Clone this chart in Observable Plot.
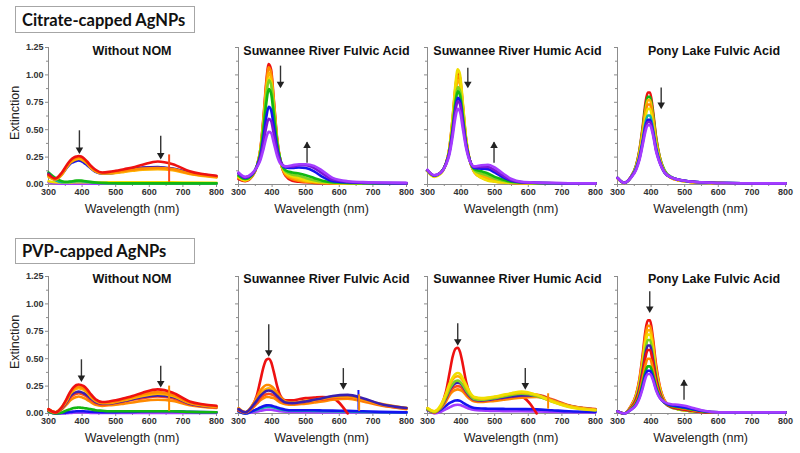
<!DOCTYPE html>
<html><head><meta charset="utf-8">
<script src="https://cdn.jsdelivr.net/npm/d3@7"></script>
<script src="https://cdn.jsdelivr.net/npm/@observablehq/plot@0.6"></script>
<style>
body{margin:0;background:#fff}
#fig{position:relative;width:800px;height:453px;overflow:hidden;background:#fff;font-family:"Liberation Sans",Arial,sans-serif}
.box{position:absolute;border:1px solid #a6a6a6;font-family:Lato,"Open Sans",sans-serif;font-weight:bold;color:#111;box-sizing:border-box;padding-left:6px;display:flex;align-items:center;white-space:nowrap}
.ptitle{position:absolute;font-weight:bold;font-size:12.5px;color:#111;white-space:nowrap;transform:translate(-50%,-50%)}
.xlab{position:absolute;font-size:12.5px;color:#222;white-space:nowrap;transform:translate(-50%,-50%)}
.ylab{position:absolute;font-size:12.5px;color:#222;white-space:nowrap;transform:translate(-50%,-50%) rotate(-90deg)}
.panel{position:absolute;overflow:visible}
</style></head><body><div id="fig"></div>
<script>
// ---------- data ----------
const wavelengths = [300,320,340,355,365,375,383,390,397,405,415,425,440,460,480,500,525,550,580,625,670,720,800];
const groupTitles = ["Citrate-capped AgNPs","PVP-capped AgNPs"];
const panelTitles = ["Without NOM","Suwannee River Fulvic Acid","Suwannee River Humic Acid","Pony Lake Fulvic Acid"];
const xTicks = [300,400,500,600,700,800];
const xMinorTicks = [350,450,550,650,750];
const yTicks = [0,0.25,0.5,0.75,1,1.25];
const yMinorTicks = [0.125,0.375,0.625,0.875,1.125];
const palette = {red:"#ee1111", orangered:"#ff4a1a", orange:"#ff8a00", gold:"#ffb300", yellow:"#f0df00",
  lime:"#7ed321", green:"#12b812", teal:"#10b5a5", blue:"#1414f0", navy:"#3a1fb0", purple:"#7b16d6", violet:"#a43cff"};

const citNone = [
 ["violet",[0.02,0.01,0.008,0.008,0.008,0.008,0.008,0.008,0.008,0.008,0.008,0.008,0.008,0.008,0.008,0.008,0.008,0.008,0.008,0.008,0.008,0.008,0.008]],
 ["yellow",[0.03,0.02,0.018,0.018,0.019,0.02,0.02,0.02,0.02,0.02,0.02,0.02,0.02,0.02,0.02,0.02,0.02,0.02,0.02,0.02,0.02,0.018,0.015]],
 ["teal",[0.08,0.04,0.02,0.02,0.024,0.028,0.03,0.031,0.03,0.028,0.024,0.02,0.016,0.013,0.012,0.011,0.01,0.01,0.01,0.01,0.01,0.01,0.01]],
 ["green",[0.11,0.06,0.03,0.025,0.028,0.032,0.035,0.036,0.035,0.032,0.028,0.024,0.018,0.014,0.012,0.011,0.01,0.01,0.01,0.01,0.01,0.01,0.01]],
 ["blue",[0.09,0.045,0.095,0.155,0.19,0.205,0.215,0.22,0.215,0.20,0.175,0.15,0.115,0.10,0.10,0.11,0.12,0.135,0.15,0.155,0.14,0.105,0.07]],
 ["navy",[0.10,0.05,0.10,0.16,0.195,0.215,0.225,0.23,0.225,0.21,0.185,0.155,0.12,0.10,0.105,0.11,0.125,0.14,0.155,0.16,0.145,0.11,0.075]],
 ["gold",[0.07,0.045,0.09,0.16,0.20,0.22,0.23,0.235,0.23,0.215,0.19,0.155,0.12,0.10,0.10,0.105,0.115,0.125,0.135,0.14,0.13,0.095,0.065]],
 ["orange",[0.08,0.05,0.10,0.17,0.21,0.235,0.245,0.25,0.245,0.23,0.20,0.165,0.125,0.105,0.11,0.115,0.125,0.135,0.145,0.15,0.14,0.10,0.07]],
 ["red",[0.09,0.055,0.11,0.18,0.22,0.245,0.255,0.26,0.255,0.24,0.21,0.175,0.135,0.11,0.115,0.125,0.14,0.155,0.18,0.21,0.185,0.12,0.08]]
];
const citSRFA = [
 ["red",[0.05,0.03,0.07,0.17,0.32,0.64,0.95,1.10,1.05,0.78,0.42,0.21,0.08,0.035,0.025,0.02,0.015,0.012,0.01,0.01,0.01,0.01,0.01]],
 ["orange",[0.06,0.035,0.075,0.17,0.32,0.62,0.92,1.07,1.02,0.76,0.41,0.21,0.09,0.05,0.035,0.025,0.02,0.015,0.012,0.01,0.01,0.01,0.01]],
 ["gold",[0.07,0.04,0.08,0.17,0.31,0.60,0.88,1.02,0.97,0.73,0.40,0.21,0.10,0.065,0.045,0.03,0.022,0.018,0.014,0.012,0.01,0.01,0.01]],
 ["yellow",[0.07,0.04,0.08,0.17,0.30,0.57,0.84,0.97,0.93,0.70,0.39,0.21,0.11,0.075,0.06,0.04,0.028,0.02,0.015,0.012,0.01,0.01,0.01]],
 ["lime",[0.08,0.05,0.085,0.17,0.30,0.56,0.82,0.95,0.91,0.69,0.39,0.22,0.12,0.09,0.08,0.06,0.04,0.025,0.018,0.014,0.012,0.01,0.01]],
 ["green",[0.08,0.05,0.085,0.17,0.28,0.52,0.75,0.87,0.83,0.63,0.37,0.22,0.13,0.11,0.10,0.085,0.06,0.035,0.02,0.015,0.012,0.01,0.01]],
 ["blue",[0.10,0.06,0.09,0.17,0.26,0.44,0.62,0.71,0.68,0.53,0.33,0.21,0.155,0.15,0.155,0.15,0.12,0.07,0.03,0.02,0.015,0.012,0.01]],
 ["purple",[0.10,0.065,0.095,0.16,0.24,0.39,0.53,0.60,0.58,0.46,0.30,0.21,0.165,0.165,0.175,0.175,0.15,0.10,0.045,0.025,0.018,0.015,0.012]],
 ["violet",[0.11,0.07,0.10,0.16,0.22,0.33,0.43,0.48,0.47,0.38,0.26,0.19,0.165,0.175,0.185,0.185,0.17,0.125,0.06,0.03,0.022,0.018,0.015]]
];
const citSRHA = [
 ["red",[0.13,0.08,0.11,0.19,0.33,0.61,0.88,1.02,0.97,0.73,0.41,0.23,0.11,0.065,0.04,0.028,0.02,0.015,0.012,0.01,0.01,0.01,0.01]],
 ["orange",[0.13,0.08,0.11,0.19,0.32,0.59,0.86,0.99,0.94,0.71,0.40,0.23,0.12,0.075,0.05,0.035,0.025,0.018,0.014,0.012,0.01,0.01,0.01]],
 ["gold",[0.13,0.08,0.11,0.19,0.32,0.57,0.82,0.95,0.91,0.69,0.39,0.23,0.12,0.085,0.06,0.04,0.028,0.02,0.015,0.012,0.01,0.01,0.01]],
 ["yellow",[0.12,0.07,0.10,0.19,0.33,0.62,0.91,1.05,1.00,0.75,0.42,0.23,0.11,0.06,0.035,0.025,0.018,0.014,0.012,0.01,0.01,0.01,0.01]],
 ["lime",[0.13,0.08,0.11,0.19,0.31,0.54,0.77,0.89,0.85,0.65,0.38,0.23,0.13,0.10,0.08,0.055,0.035,0.022,0.016,0.012,0.01,0.01,0.01]],
 ["green",[0.13,0.08,0.11,0.19,0.30,0.52,0.74,0.85,0.81,0.62,0.37,0.23,0.14,0.12,0.10,0.07,0.045,0.025,0.018,0.014,0.012,0.01,0.01]],
 ["blue",[0.13,0.08,0.11,0.19,0.29,0.49,0.69,0.79,0.76,0.58,0.36,0.23,0.15,0.145,0.14,0.11,0.065,0.035,0.02,0.015,0.012,0.01,0.01]],
 ["purple",[0.13,0.085,0.11,0.19,0.29,0.48,0.67,0.76,0.73,0.56,0.35,0.23,0.16,0.16,0.16,0.13,0.08,0.04,0.022,0.016,0.013,0.011,0.01]],
 ["violet",[0.135,0.085,0.11,0.18,0.27,0.44,0.61,0.69,0.66,0.51,0.33,0.22,0.165,0.175,0.18,0.155,0.10,0.05,0.025,0.018,0.015,0.012,0.01]]
];
const citPLFA = [
 ["red",[0.06,0.015,0.07,0.17,0.31,0.53,0.74,0.84,0.84,0.69,0.43,0.26,0.12,0.06,0.04,0.03,0.022,0.018,0.015,0.012,0.01,0.01,0.01]],
 ["green",[0.06,0.015,0.07,0.17,0.30,0.51,0.70,0.80,0.80,0.66,0.42,0.26,0.13,0.07,0.045,0.035,0.025,0.02,0.016,0.013,0.011,0.01,0.01]],
 ["gold",[0.06,0.015,0.07,0.16,0.29,0.49,0.67,0.77,0.77,0.63,0.40,0.25,0.12,0.065,0.04,0.03,0.022,0.018,0.015,0.012,0.01,0.01,0.01]],
 ["orange",[0.055,0.012,0.065,0.16,0.28,0.47,0.64,0.73,0.73,0.60,0.38,0.24,0.115,0.06,0.04,0.03,0.022,0.018,0.015,0.012,0.01,0.01,0.01]],
 ["yellow",[0.055,0.012,0.065,0.15,0.27,0.45,0.61,0.69,0.69,0.57,0.36,0.23,0.11,0.06,0.04,0.03,0.02,0.016,0.014,0.012,0.01,0.01,0.01]],
 ["teal",[0.06,0.015,0.065,0.15,0.25,0.41,0.56,0.63,0.63,0.52,0.34,0.22,0.11,0.065,0.045,0.033,0.025,0.02,0.016,0.013,0.011,0.01,0.01]],
 ["blue",[0.06,0.015,0.065,0.14,0.24,0.39,0.53,0.59,0.59,0.49,0.32,0.21,0.11,0.065,0.045,0.035,0.025,0.02,0.016,0.013,0.011,0.01,0.01]],
 ["purple",[0.06,0.015,0.065,0.14,0.23,0.38,0.51,0.57,0.57,0.48,0.31,0.21,0.11,0.065,0.045,0.035,0.025,0.02,0.016,0.013,0.011,0.01,0.01]],
 ["violet",[0.06,0.015,0.06,0.13,0.22,0.36,0.48,0.54,0.54,0.46,0.30,0.20,0.11,0.065,0.045,0.035,0.025,0.02,0.016,0.013,0.011,0.01,0.01]]
];
const pvpNone = [
 ["violet",[0.02,0.0,0.0,0.002,0.005,0.008,0.01,0.01,0.01,0.01,0.008,0.006,0.005,0.005,0.005,0.005,0.005,0.005,0.005,0.005,0.005,0.005,0.005]],
 ["blue",[0.02,0.0,0.005,0.01,0.015,0.018,0.02,0.02,0.02,0.02,0.018,0.016,0.014,0.013,0.013,0.013,0.014,0.015,0.018,0.02,0.02,0.015,0.012]],
 ["green",[0.02,0.0,0.01,0.03,0.04,0.05,0.052,0.055,0.052,0.05,0.045,0.04,0.03,0.025,0.02,0.02,0.02,0.02,0.02,0.02,0.02,0.015,0.012]],
 ["orange",[0.03,0.01,0.04,0.085,0.12,0.14,0.15,0.155,0.15,0.14,0.125,0.105,0.08,0.07,0.075,0.08,0.09,0.10,0.115,0.125,0.115,0.075,0.05]],
 ["orangered",[0.03,0.01,0.045,0.10,0.145,0.17,0.18,0.185,0.18,0.17,0.15,0.125,0.095,0.08,0.085,0.095,0.11,0.125,0.14,0.155,0.14,0.085,0.055]],
 ["navy",[0.035,0.01,0.05,0.11,0.16,0.185,0.195,0.20,0.195,0.185,0.165,0.14,0.105,0.09,0.09,0.10,0.115,0.13,0.15,0.165,0.15,0.09,0.06]],
 ["gold",[0.035,0.01,0.055,0.12,0.18,0.21,0.225,0.23,0.225,0.215,0.19,0.155,0.115,0.095,0.095,0.105,0.12,0.14,0.16,0.18,0.16,0.095,0.06]],
 ["orange",[0.04,0.01,0.06,0.13,0.19,0.225,0.24,0.245,0.24,0.23,0.20,0.165,0.12,0.10,0.10,0.11,0.13,0.15,0.175,0.195,0.17,0.10,0.065]],
 ["red",[0.04,0.01,0.06,0.14,0.20,0.24,0.26,0.265,0.26,0.25,0.22,0.18,0.13,0.105,0.11,0.12,0.14,0.16,0.19,0.22,0.19,0.11,0.07]]
];
const pvpSRFA = [
 ["violet",[0.03,0.0,0.01,0.018,0.025,0.03,0.034,0.035,0.034,0.03,0.025,0.02,0.016,0.014,0.013,0.012,0.011,0.01,0.01,0.01,0.01,0.01,0.01]],
 ["teal",[0.02,0.0,0.02,0.035,0.045,0.055,0.06,0.062,0.06,0.055,0.045,0.037,0.03,0.027,0.026,0.025,0.024,0.022,0.02,0.018,0.015,0.012,0.01]],
 ["blue",[0.02,0.0,0.02,0.04,0.055,0.068,0.074,0.075,0.072,0.065,0.055,0.045,0.035,0.03,0.03,0.03,0.03,0.028,0.026,0.024,0.02,0.015,0.01]],
 ["red",[0.03,0.01,0.06,0.17,0.30,0.43,0.49,0.50,0.47,0.38,0.25,0.16,0.12,0.12,0.13,0.14,0.145,0.15,0.14,0.0,null,null,null]],
 ["orange",[0.03,0.01,0.045,0.09,0.12,0.14,0.15,0.15,0.145,0.14,0.12,0.10,0.085,0.08,0.085,0.09,0.10,0.11,0.125,0.135,0.11,0.075,0.04]],
 ["orangered",[0.03,0.01,0.05,0.10,0.14,0.165,0.175,0.18,0.175,0.165,0.145,0.12,0.095,0.09,0.095,0.105,0.115,0.125,0.14,0.15,0.12,0.08,0.045]],
 ["gold",[0.04,0.01,0.06,0.13,0.18,0.21,0.225,0.23,0.22,0.20,0.17,0.14,0.105,0.095,0.10,0.11,0.12,0.135,0.15,0.155,0.125,0.085,0.05]],
 ["orange",[0.05,0.01,0.07,0.15,0.21,0.245,0.26,0.26,0.25,0.23,0.19,0.15,0.11,0.10,0.105,0.115,0.125,0.14,0.155,0.16,0.13,0.09,0.05]],
 ["navy",[0.04,0.01,0.06,0.12,0.16,0.19,0.205,0.21,0.205,0.19,0.16,0.13,0.10,0.095,0.10,0.11,0.125,0.14,0.16,0.17,0.14,0.09,0.05]]
];
const pvpSRHA = [
 ["violet",[0.05,0.0,0.015,0.04,0.055,0.07,0.078,0.08,0.077,0.068,0.055,0.043,0.032,0.027,0.025,0.023,0.022,0.02,0.02,0.018,0.015,0.012,0.01]],
 ["blue",[0.03,0.01,0.035,0.07,0.095,0.11,0.118,0.12,0.115,0.10,0.08,0.065,0.05,0.045,0.044,0.043,0.042,0.041,0.04,0.038,0.03,0.02,0.015]],
 ["red",[0.04,0.01,0.07,0.20,0.36,0.52,0.59,0.60,0.56,0.45,0.29,0.19,0.13,0.12,0.125,0.135,0.145,0.155,0.15,0.0,null,null,null]],
 ["orange",[0.035,0.01,0.05,0.11,0.165,0.20,0.215,0.22,0.215,0.20,0.165,0.135,0.11,0.105,0.11,0.115,0.125,0.135,0.145,0.15,0.115,0.07,0.035]],
 ["orangered",[0.04,0.015,0.055,0.13,0.19,0.23,0.245,0.25,0.245,0.225,0.185,0.15,0.12,0.115,0.12,0.13,0.14,0.15,0.16,0.17,0.13,0.075,0.04]],
 ["navy",[0.04,0.015,0.06,0.14,0.21,0.255,0.275,0.28,0.275,0.25,0.20,0.16,0.125,0.12,0.125,0.135,0.145,0.155,0.165,0.165,0.12,0.07,0.035]],
 ["lime",[0.04,0.015,0.06,0.15,0.22,0.27,0.295,0.30,0.29,0.26,0.21,0.17,0.13,0.125,0.13,0.14,0.155,0.17,0.18,0.16,0.11,0.065,0.03]],
 ["gold",[0.05,0.02,0.07,0.17,0.25,0.31,0.335,0.34,0.33,0.30,0.24,0.19,0.145,0.135,0.14,0.15,0.165,0.18,0.19,0.17,0.12,0.07,0.035]],
 ["yellow",[0.05,0.02,0.08,0.18,0.27,0.33,0.36,0.37,0.36,0.32,0.26,0.20,0.15,0.14,0.145,0.155,0.17,0.185,0.20,0.17,0.11,0.06,0.03]]
];
const pvpPLFA = [
 ["red",[0.02,0.0,0.07,0.17,0.31,0.54,0.75,0.85,0.85,0.70,0.44,0.26,0.12,0.06,0.04,0.03,0.02,0.015,0.01,0.01,0.01,0.01,0.01]],
 ["orange",[0.02,0.0,0.065,0.165,0.295,0.51,0.71,0.80,0.80,0.66,0.41,0.25,0.115,0.06,0.04,0.03,0.02,0.015,0.01,0.01,0.01,0.01,0.01]],
 ["gold",[0.02,0.0,0.06,0.155,0.28,0.48,0.67,0.76,0.76,0.62,0.39,0.24,0.11,0.06,0.04,0.03,0.02,0.015,0.01,0.01,0.01,0.01,0.01]],
 ["yellow",[0.02,0.0,0.06,0.15,0.265,0.46,0.64,0.72,0.72,0.59,0.37,0.23,0.11,0.06,0.04,0.03,0.02,0.015,0.01,0.01,0.01,0.01,0.01]],
 ["lime",[0.02,0.0,0.055,0.135,0.245,0.42,0.58,0.67,0.67,0.54,0.34,0.21,0.10,0.055,0.04,0.03,0.02,0.015,0.01,0.01,0.01,0.01,0.01]],
 ["navy",[0.02,0.0,0.05,0.125,0.225,0.39,0.54,0.62,0.62,0.50,0.32,0.20,0.10,0.06,0.045,0.035,0.025,0.015,0.01,0.01,0.01,0.01,0.01]],
 ["red",[0.02,0.0,0.05,0.12,0.21,0.37,0.51,0.58,0.58,0.47,0.30,0.19,0.10,0.06,0.045,0.035,0.025,0.015,0.01,0.01,0.01,0.01,0.01]],
 ["orange",[0.02,0.0,0.045,0.10,0.185,0.32,0.44,0.50,0.50,0.41,0.27,0.17,0.10,0.07,0.055,0.045,0.03,0.02,0.012,0.01,0.01,0.01,0.01]],
 ["green",[0.02,0.0,0.04,0.09,0.16,0.28,0.38,0.43,0.43,0.36,0.24,0.16,0.10,0.07,0.06,0.05,0.035,0.022,0.013,0.01,0.01,0.01,0.01]],
 ["blue",[0.02,0.0,0.035,0.08,0.145,0.25,0.35,0.39,0.39,0.33,0.22,0.15,0.10,0.075,0.065,0.055,0.04,0.025,0.014,0.01,0.01,0.01,0.01]],
 ["violet",[0.02,0.0,0.035,0.075,0.135,0.23,0.32,0.36,0.36,0.31,0.21,0.145,0.105,0.085,0.08,0.07,0.05,0.03,0.015,0.01,0.01,0.01,0.01]]
];
const panelSeries = [citNone, citSRFA, citSRHA, citPLFA, pvpNone, pvpSRFA, pvpSRHA, pvpPLFA];

// arrows: [panel, wavelength, from, to]
const arrowMarks = [
 [0,392,0.49,0.29],[0,634,0.44,0.24],
 [1,425,1.08,0.89],[1,504,0.195,0.38],
 [2,420,1.06,0.89],[2,498,0.195,0.38],
 [3,430,0.88,0.70],
 [4,398,0.49,0.30],[4,634,0.43,0.25],
 [5,390,0.81,0.53],[5,612,0.41,0.23],
 [6,390,0.82,0.63],[6,591,0.41,0.23],
 [7,396,1.11,0.93],[7,498,0.12,0.30]
];
// lamp-change artefacts: [panel, wavelength, low, high, colour]
const spikeMarks = [
 [0,659,0.02,0.27,"orangered"],
 [4,659,0.02,0.25,"orange"],
 [5,657,0.03,0.21,"blue"],
 [5,659,0.02,0.17,"orange"],
 [6,659,0.04,0.18,"orange"]
];

// ---------- layout ----------
const fig = document.getElementById("fig");
const panelLeft = [48, 237.5, 427, 616.7];
const panelTop = [47, 276];
const plotW = 168, plotH = 137;
const ML = 40, MR = 8, MT = 6, MB = 18;
const titleX = [132, 326.5, 517.5, 714];
const titleY = [50.7, 278.5];

function addDiv(cls, text, css) {
  const d = document.createElement("div");
  d.className = cls; d.textContent = text;
  Object.assign(d.style, css);
  fig.appendChild(d);
  return d;
}

addDiv("box", groupTitles[0], {left:"15px", top:"6px", width:"180px", height:"27px", fontSize:"16.5px"});
addDiv("box", groupTitles[1], {left:"15px", top:"238px", width:"180px", height:"26px", fontSize:"16.5px"});
addDiv("ylab", "Extinction", {left:"15px", top:"113px"});
addDiv("ylab", "Extinction", {left:"15px", top:"342px"});

const bad = [];
panelSeries.forEach((series, idx) => {
  const row = Math.floor(idx / 4), col = idx % 4;
  const rows = [];
  series.forEach(([c, vals], si) => {
    if (vals.length !== wavelengths.length) bad.push(idx + ":" + si + ":" + vals.length);
    vals.forEach((v, i) => rows.push({x: wavelengths[i], y: v, s: si, c: palette[c]}));
  });
  const arr = arrowMarks.filter(a => a[0] === idx).map(a => ({x: a[1], from: a[2], to: a[3]}));
  const down = arr.filter(a => a.to < a.from), up = arr.filter(a => a.to > a.from);
  const spk = spikeMarks.filter(s => s[0] === idx).map(s => ({x: s[1], y1: s[2], y2: s[3], c: palette[s[4]]}));

  const svg = Plot.plot({
    width: ML + plotW + MR, height: MT + plotH + MB,
    marginLeft: ML, marginRight: MR, marginTop: MT, marginBottom: MB,
    x: {domain: [300, 800]},
    y: {domain: [0, 1.25]},
    color: {type: "identity"},
    style: {background: "transparent", fontFamily: "'Liberation Sans', Arial, sans-serif", fontSize: "9px", fontWeight: "bold", overflow: "visible"},
    marks: [
      Plot.ruleY([0], {stroke: "#8c8c8c"}),
      Plot.ruleX([300], {stroke: "#8c8c8c"}),
      Plot.axisX({ticks: xTicks, tickSize: 3, tickPadding: 1, stroke: "#8c8c8c", fill: "#333", label: null}),
      Plot.axisX({ticks: xMinorTicks, tickSize: 2, tickFormat: () => "", stroke: "#8c8c8c", label: null}),
      Plot.axisY({ticks: yTicks, tickSize: 3, tickPadding: 2, tickFormat: col === 0 ? (d => d.toFixed(2)) : (() => ""), stroke: "#8c8c8c", fill: "#333", label: null}),
      Plot.axisY({ticks: yMinorTicks, tickSize: 2, tickFormat: () => "", stroke: "#8c8c8c", label: null}),
      Plot.line(rows, {x: "x", y: "y", z: "s", stroke: "c", strokeWidth: 2.6, curve: "monotone-x"}),
      Plot.ruleX(spk, {x: "x", y1: "y1", y2: "y2", stroke: "c", strokeWidth: 2}),
      Plot.ruleX(arr, {x: "x", y1: "from", y2: "to", stroke: "#333", strokeWidth: 1.4}),
      Plot.dot(down, {x: "x", y: "to", symbol: "triangle", rotate: 180, fill: "#222", stroke: "none", r: 2.8, dy: -3}),
      Plot.dot(up, {x: "x", y: "to", symbol: "triangle", fill: "#222", stroke: "none", r: 2.8, dy: 3})
    ]
  });
  svg.classList.add("panel");
  svg.style.left = (panelLeft[col] - ML) + "px";
  svg.style.top = (panelTop[row] - MT) + "px";
  svg.style.overflow = "visible";
  fig.appendChild(svg);

  addDiv("ptitle", panelTitles[col], {left: titleX[col] + "px", top: titleY[row] + "px"});
  addDiv("xlab", "Wavelength (nm)", {left: (panelLeft[col] + plotW / 2) + "px", top: (panelTop[row] + plotH + 25) + "px"});
});
if (bad.length) throw new Error("length mismatch " + bad.join(","));
</script></body></html>
